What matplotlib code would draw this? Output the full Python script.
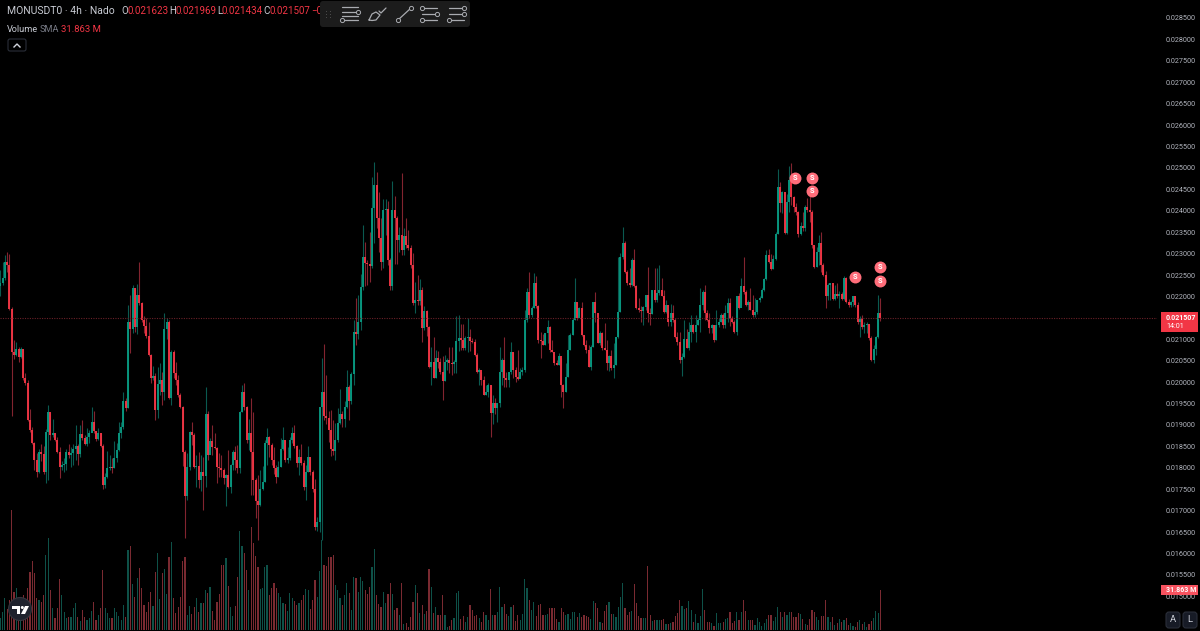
import matplotlib
matplotlib.use("Agg")
import matplotlib.pyplot as plt
from matplotlib.patches import Circle, FancyBboxPatch, Polygon, Rectangle

plt.rcParams['font.family'] = ['Roboto', 'DejaVu Sans']

# prijzen staan in eenheden van 0.00001
opens_start = 2225
closes = [
    2232, 2243, 2281, 2274, 2170, 2070, 2063, 2077, 2059, 2077,
    2010, 1998, 1912, 1888, 1858, 1818, 1790, 1838, 1832, 1790,
    1884, 1930, 1877, 1881, 1865, 1837, 1802, 1807, 1810, 1837,
    1830, 1835, 1844, 1851, 1832, 1879, 1870, 1856, 1872, 1881,
    1907, 1886, 1867, 1881, 1851, 1760, 1779, 1800, 1802, 1800,
    1823, 1842, 1881, 1895, 1956, 1940, 2141, 2125, 2220, 2129,
    2204, 2185, 2146, 2131, 2108, 2063, 2010, 2015, 1935, 1996,
    2005, 1977, 2124, 2140, 1963, 2070, 2021, 2005, 1970, 1942,
    1837, 1734, 1802, 1884, 1877, 1802, 1804, 1772, 1790, 1781,
    1926, 1830, 1863, 1849, 1847, 1802, 1800, 1795, 1776, 1783,
    1755, 1807, 1837, 1818, 1800, 1930, 1977, 1942, 1865, 1881,
    1837, 1772, 1723, 1714, 1751, 1767, 1858, 1872, 1853, 1818,
    1800, 1779, 1802, 1844, 1865, 1818, 1823, 1865, 1881, 1851,
    1812, 1825, 1812, 1755, 1790, 1825, 1790, 1750, 1662, 1674,
    1942, 1977, 1921, 1916, 1888, 1844, 1840, 1865, 1905, 1926,
    1915, 1942, 1989, 1956, 2019, 2117, 2112, 2141, 2222, 2293,
    2279, 2276, 2271, 2407, 2460, 2383, 2337, 2281, 2402, 2404,
    2285, 2225, 2402, 2383, 2332, 2344, 2309, 2341, 2320, 2313,
    2274, 2185, 2192, 2190, 2215, 2126, 2166, 2129, 2035, 2047,
    2010, 2056, 2047, 2024, 2003, 2047, 2052, 2045, 2043, 2047,
    2096, 2103, 2098, 2080, 2103, 2105, 2096, 2094, 2063, 2024,
    2028, 2005, 1970, 1977, 1993, 1928, 1952, 1940, 1952, 2024,
    2052, 2010, 2005, 2024, 2070, 2029, 2012, 2008, 2024, 2028,
    2145, 2210, 2157, 2173, 2232, 2178, 2098, 2096, 2087, 2115,
    2129, 2075, 2070, 2045, 2040, 2061, 1993, 1977, 2012, 2075,
    2110, 2146, 2186, 2150, 2173, 2110, 2087, 2075, 2035, 2082,
    2186, 2162, 2091, 2115, 2080, 2075, 2045, 2061, 2033, 2040,
    2105, 2164, 2292, 2325, 2257, 2232, 2227, 2285, 2225, 2173,
    2168, 2166, 2175, 2204, 2162, 2160, 2215, 2192, 2209, 2215,
    2201, 2164, 2180, 2141, 2162, 2146, 2106, 2094, 2052, 2059,
    2100, 2080, 2117, 2133, 2117, 2133, 2146, 2180, 2211, 2162,
    2146, 2126, 2133, 2098, 2133, 2140, 2157, 2133, 2162, 2185,
    2150, 2141, 2117, 2200, 2173, 2225, 2211, 2180, 2187, 2168,
    2157, 2164, 2192, 2197, 2215, 2241, 2297, 2281, 2264, 2288,
    2346, 2455, 2418, 2444, 2348, 2420, 2472, 2432, 2409, 2397,
    2346, 2365, 2360, 2409, 2402, 2397, 2320, 2269, 2304, 2325,
    2274, 2250, 2200, 2227, 2232, 2195, 2206, 2201, 2206, 2195,
    2243, 2187, 2180, 2187, 2201, 2180, 2141, 2148, 2129, 2133,
    2136, 2103, 2052, 2078, 2105, 2162.3, 2150.7,
]
highs = [
    2262, 2281, 2297, 2304, 2299, 2175, 2099, 2093, 2082, 2082,
    2077, 2021, 2005, 1938, 1895, 1860, 1835, 1843, 1855, 1852,
    1890, 1947, 1930, 1914, 1881, 1872, 1849, 1815, 1822, 1844,
    1856, 1849, 1856, 1900, 1856, 1900, 1912, 1877, 1893, 1888,
    1942, 1933, 1886, 1893, 1881, 1856, 1788, 1840, 1830, 1823,
    1863, 1858, 1907, 1907, 1977, 1963, 2180, 2204, 2227, 2220,
    2229, 2281, 2187, 2155, 2150, 2141, 2065, 2038, 2021, 2036,
    2045, 2024, 2162, 2150, 2145, 2075, 2075, 2047, 2017, 1975,
    1945, 1842, 1835, 1886, 1907, 1881, 1830, 1837, 1830, 1825,
    1989, 1933, 1870, 1900, 1881, 1849, 1835, 1830, 1800, 1786,
    1842, 1810, 1842, 1851, 1853, 1932, 1993, 1998, 1944, 1914,
    1963, 1930, 1776, 1783, 1795, 1804, 1865, 1893, 1874, 1858,
    1849, 1807, 1816, 1870, 1895, 1865, 1849, 1872, 1895, 1900,
    1853, 1844, 1856, 1818, 1807, 1851, 1825, 1795, 1774, 1685,
    1942, 2057, 2090, 2017, 1933, 1935, 1912, 1905, 1940, 1984,
    1933, 1956, 2029, 1993, 2024, 2145, 2197, 2204, 2253, 2367,
    2327, 2285, 2350, 2479, 2514, 2491, 2444, 2383, 2427, 2427,
    2422, 2290, 2469, 2435, 2388, 2362, 2488, 2360, 2383, 2355,
    2320, 2302, 2234, 2250, 2241, 2222, 2178, 2169, 2131, 2082,
    2105, 2075, 2073, 2056, 2060, 2064, 2057, 2082, 2082, 2052,
    2155, 2157, 2136, 2136, 2108, 2150, 2124, 2103, 2101, 2068,
    2033, 2024, 2015, 1993, 1998, 1993, 1970, 1963, 1952, 2082,
    2057, 2105, 2024, 2024, 2094, 2070, 2036, 2075, 2033, 2036,
    2168, 2220, 2257, 2178, 2255, 2248, 2180, 2117, 2112, 2115,
    2146, 2131, 2098, 2063, 2052, 2068, 2056, 1996, 2045, 2110,
    2115, 2150, 2243, 2186, 2175, 2187, 2110, 2098, 2087, 2087,
    2186, 2211, 2136, 2119, 2117, 2138, 2098, 2064, 2075, 2092,
    2105, 2292, 2301, 2362, 2330, 2262, 2267, 2290, 2311, 2227,
    2197, 2178, 2178, 2204, 2268, 2173, 2215, 2267, 2267, 2274,
    2243, 2215, 2192, 2169, 2183, 2180, 2150, 2117, 2117, 2068,
    2146, 2124, 2140, 2157, 2136, 2157, 2150, 2220, 2215, 2227,
    2169, 2162, 2136, 2133, 2168, 2150, 2162, 2162, 2180, 2197,
    2197, 2155, 2146, 2200, 2209, 2243, 2292, 2215, 2192, 2220,
    2204, 2197, 2192, 2201, 2220, 2243, 2308, 2311, 2299, 2297,
    2351, 2498, 2468, 2446, 2418, 2440, 2505, 2512, 2435, 2418,
    2400, 2374, 2397, 2413, 2430, 2437, 2402, 2320, 2315, 2344,
    2351, 2278, 2260, 2232, 2232, 2227, 2227, 2232, 2213, 2211,
    2248, 2246, 2194, 2190, 2201, 2201, 2187, 2155, 2157, 2140,
    2140, 2136, 2108, 2087, 2108, 2204, 2196.9,
]
lows = [
    2202, 2227, 2238, 2257, 2168, 1921, 2054, 2061, 2047, 2057,
    2005, 1993, 1910, 1884, 1856, 1795, 1779, 1788, 1815, 1785,
    1765, 1772, 1865, 1872, 1863, 1835, 1776, 1795, 1790, 1795,
    1823, 1802, 1807, 1818, 1807, 1825, 1865, 1853, 1851, 1858,
    1884, 1881, 1863, 1865, 1849, 1750, 1752, 1776, 1795, 1788,
    1800, 1814, 1840, 1870, 1890, 1933, 1940, 2068, 2115, 2118,
    2113, 2180, 2141, 2115, 2103, 2061, 1998, 2005, 1912, 1916,
    1970, 1947, 1958, 2100, 1960, 1947, 2010, 1994, 1966, 1940,
    1804, 1637, 1725, 1795, 1853, 1800, 1756, 1752, 1745, 1702,
    1755, 1818, 1845, 1830, 1844, 1764, 1779, 1779, 1762, 1711,
    1753, 1742, 1795, 1795, 1788, 1788, 1930, 1935, 1858, 1842,
    1737, 1737, 1682, 1632, 1711, 1748, 1767, 1807, 1825, 1807,
    1786, 1764, 1779, 1802, 1842, 1814, 1811, 1818, 1858, 1846,
    1802, 1783, 1807, 1748, 1725, 1790, 1783, 1744, 1655, 1653,
    1651, 1632, 1912, 1902, 1860, 1828, 1830, 1818, 1860, 1902,
    1895, 1895, 1940, 1912, 1950, 1993, 2087, 2100, 2122, 2216,
    2225, 2227, 2234, 2267, 2325, 2360, 2304, 2262, 2267, 2344,
    2274, 2216, 2216, 2276, 2276, 2304, 2297, 2297, 2313, 2309,
    2267, 2180, 2161, 2180, 2180, 2094, 2122, 2108, 2033, 1994,
    2010, 2010, 2033, 2019, 1958, 2003, 2028, 2021, 2017, 2021,
    2021, 2073, 2075, 2075, 2075, 2070, 2073, 2091, 2061, 2021,
    1994, 1994, 1970, 1970, 1966, 1872, 1902, 1926, 1908, 1942,
    1994, 1989, 1989, 1989, 2019, 2010, 2001, 2005, 2012, 2017,
    2024, 2141, 2150, 2152, 2173, 2173, 2092, 2056, 2087, 2087,
    2092, 2070, 2070, 2040, 2040, 2040, 1966, 1940, 1977, 2012,
    2075, 2110, 2146, 2146, 2154, 2108, 2085, 2068, 2035, 2029,
    2082, 2140, 2091, 2087, 2075, 2075, 2029, 2026, 2029, 2010,
    2040, 2103, 2164, 2288, 2255, 2227, 2222, 2225, 2222, 2171,
    2164, 2140, 2133, 2169, 2140, 2133, 2160, 2187, 2187, 2204,
    2201, 2162, 2162, 2131, 2131, 2141, 2103, 2087, 2045, 2015,
    2056, 2080, 2075, 2094, 2115, 2094, 2133, 2117, 2169, 2145,
    2143, 2115, 2115, 2094, 2098, 2129, 2140, 2126, 2126, 2141,
    2131, 2138, 2115, 2110, 2171, 2180, 2206, 2178, 2168, 2168,
    2152, 2152, 2159, 2187, 2197, 2213, 2239, 2278, 2262, 2264,
    2285, 2346, 2397, 2395, 2346, 2346, 2397, 2413, 2397, 2390,
    2339, 2344, 2353, 2353, 2397, 2374, 2314, 2267, 2269, 2274,
    2258, 2248, 2173, 2192, 2192, 2192, 2192, 2197, 2173, 2192,
    2192, 2185, 2176, 2176, 2178, 2176, 2136, 2106, 2125, 2115,
    2115, 2098, 2050, 2045, 2063, 2103, 2143.4,
]
# volume in miljoenen
volumes = [
    9.3, 14.7, 25.3, 16.5, 24, 96, 30.7, 33.3, 24, 21.3, 28, 24, 33.3, 46.7, 55.2, 45.3,
    25.3, 24, 22.7, 28, 60, 73.3, 32, 17.3, 9.3, 17.3, 40.5, 28, 14.7, 9.3, 10.7, 10.1,
    17.3, 21.9, 10.7, 7.5, 16, 10.1, 8, 9.3, 15.5, 22.7, 8, 12, 17.3, 48, 17.3, 13.3,
    9.3, 9.3, 17.3, 14.7, 11.5, 8, 20, 10.7, 64, 67.2, 36.8, 26.1, 41.3, 49.3, 33.3, 20,
    14.1, 22.7, 30.1, 19.2, 46.1, 61.3, 24.8, 45.3, 48.5, 28.8, 58.7, 70.1, 25.9, 13.3, 18.7, 26.1,
    55.2, 58.1, 12, 19.2, 12.8, 18.7, 25.9, 14.7, 21.3, 21.3, 32, 29.9, 34.1, 15.2, 8, 22.4,
    28.8, 52, 52, 57.3, 35.2, 18.1, 11.2, 19.2, 42.7, 79.5, 67.2, 61.3, 48, 32, 82.1, 69.3,
    59.2, 50.1, 32.5, 33.3, 50.1, 52, 28, 33.3, 37.3, 33.3, 29.9, 26.7, 21.9, 20.8, 15.2, 29.3,
    25.3, 23.5, 20, 21.9,
    24, 28, 32.5, 32, 16.8, 24, 40, 26.7, 47.2, 72, 52, 51.2, 58.1, 58.7, 59.7, 36,
    32, 25.3, 20, 28, 37.3, 29.3, 16, 42.1, 41.3, 30.1, 42.1, 39.2, 32, 28.8, 34.1, 50.1,
    64.8, 28, 20.8, 18.7, 30.7, 21.3, 28.8, 37.9, 28.8, 16, 17.3, 12, 37.3, 4.8, 5.3, 2.1,
    10.7, 22.1, 36, 29.3, 13.3, 20, 12.8, 15.2, 48.5, 34.7, 13.3, 18.7, 12, 12, 28, 12,
    2.1, 3.2, 8, 9.3, 29.3, 31.2, 8.8, 11.2, 6.7, 10.1, 20, 16, 11.2, 12, 9.3, 6.7,
    14.1, 12, 8, 32.8, 12, 12, 14.1, 34.7, 18.7, 20.5, 12.8, 11.2, 18.1, 20, 7.5, 12,
    8, 12.8, 40.5, 33.9, 24, 16, 22.1, 11.2, 20, 20.8, 12, 12, 12.8, 17.3, 17.3, 17.9,
    8.8, 6.7, 17.9, 14.1, 12, 12.8, 8.5, 14.7, 14.1, 10.1, 13.3, 10.1, 12, 11.2, 10.1, 8.8,
    23.5, 21.3, 17.3, 6.1, 5.3, 15.2, 20, 22.7, 12.8, 12.8, 10.1, 18.7, 26.7, 37.9, 17.3, 12,
    14.7, 15.5, 36.8, 21.3, 11.2, 9.3, 9.3, 9.3, 51.2, 11.7, 7.2, 7.7, 7.7, 7.7, 8, 8.8,
    4.5, 4.5, 5.3, 6.1, 11.2, 13.3, 24, 19.2, 16.8, 17.3, 23.2, 16, 6.4, 12.8, 5.9, 11.2,
    33.1, 16, 6.4, 6.7, 5.3, 3.2, 13.3, 5.9, 5.3, 6.7, 8.8, 9.3, 14.7, 5.3, 7.2, 14.1,
    8, 14.7, 24, 15.2, 8, 8, 8, 4, 9.3, 6.1, 3.2, 5.3, 8.8, 12, 12, 7.5,
    10.1, 18.7, 14.1, 10.1, 14.1, 12, 14.7, 14.7, 10.1, 10.1, 13.3, 12.8, 8.8, 4.5, 4, 8.8,
    16, 14.1, 10.1, 8, 11.2, 11.2, 24, 10.7, 6.7, 10.1, 4, 5.3, 8.8, 6.7, 8, 9.3,
    4, 5.3, 3.2, 2.1, 6.1, 8, 4.8, 6.1, 2.7, 4.5, 7.5, 9.3, 15.2, 13.3, 31.863,
]
signal_bars = [348.5, 356, 356, 375, 386, 386]
signal_prices = [2477, 2477, 2446, 2245, 2269, 2236]
price_ticks = [0.0150 + 0.0005 * k for k in range(28)]
last_price = 0.021507

W, H = 1200, 631
UP, DOWN = '#089981', '#f23645'
UP_WICK, DOWN_WICK = '#0a5a50', '#82242f'
UP_VOL, DOWN_VOL = '#0e5148', '#7a2a31'
GREY = '#c8cbd3'

opens = [opens_start] + closes[:-1]
up = [c >= o for o, c in zip(opens, closes)]
x = list(range(len(closes)))
to_price = lambda values: [v / 1e5 for v in values]

fig = plt.figure(figsize=(W / 100, H / 100), dpi=100, facecolor='black')
rect = [0, 0, 1157 / W, 1]
x_limits = (-0.13, 507.3)

# volume onderaan, achter de candles
ax_vol = fig.add_axes(rect, facecolor='black')
vol_x = [len(closes) - len(volumes) + k for k in range(len(volumes))]
vol_col = [UP_VOL if up[k] else DOWN_VOL for k in vol_x]
ax_vol.bar(vol_x, volumes, width=0.52, color=vol_col, linewidth=0)
ax_vol.set_xlim(x_limits)
ax_vol.set_ylim(-0.8, 504)
ax_vol.axis('off')

ax = fig.add_axes(rect, facecolor='none')
ax.set_xlim(x_limits)
ax.set_ylim(0.01419, 0.02892)
ax.vlines(x, to_price(lows), to_price(highs), colors=[UP_WICK if u else DOWN_WICK for u in up], linewidth=0.8)
ax.vlines(x, to_price(opens), to_price(closes), colors=[UP if u else DOWN for u in up], linewidth=1.35)
ax.axhline(last_price, color='#6a2028', linewidth=0.8, linestyle=(0, (1, 1.2)))

ax.scatter(signal_bars, to_price(signal_prices), s=74, color='#ff6d7a', linewidth=0, zorder=5)
for b, p in zip(signal_bars, signal_prices):
    ax.text(b, p / 1e5, 'S', color='white', fontsize=5.4, fontweight='bold', ha='center', va='center', zorder=6)

ax.set_xticks([])
ax.set_yticks(price_ticks)
ax.set_yticklabels([f'{t:.6f}' for t in price_ticks])
ax.yaxis.tick_right()
ax.tick_params(axis='y', length=0, pad=6.5, labelsize=5.2, labelcolor='#b2b5be')
for s in ax.spines.values():
    s.set_visible(False)

# overlay in pixels voor de koptekst en knoppen
ov = fig.add_axes([0, 0, 1, 1], facecolor='none')
ov.set_xlim(0, W)
ov.set_ylim(H, 0)
ov.axis('off')

ov.text(7, 11.5, 'MONUSDT0 · 4h · Nado', color=GREY, fontsize=7.5, va='center')
for xt, s, c in [(121, 'O', GREY), (128, '0.021623', DOWN), (169, 'H', GREY), (176, '0.021969', DOWN),
                 (217, 'L', GREY), (222, '0.021434', DOWN), (263, 'C', GREY), (270, '0.021507', DOWN),
                 (311, '−0', DOWN)]:
    ov.text(xt, 11.5, s, color=c, fontsize=7.0, va='center')
ov.text(7, 29, 'Volume', color=GREY, fontsize=6.6, va='center')
ov.text(40, 29, 'SMA', color='#787b86', fontsize=6.6, va='center')
ov.text(61, 29, '31.863 M', color=DOWN, fontsize=6.8, va='center')

# inklapknop
ov.add_patch(FancyBboxPatch((8, 39), 18, 12, boxstyle='round,pad=0,rounding_size=2', fc='black', ec='#2a2e39', lw=0.8))
ov.plot([14, 17, 20], [47, 44, 47], color='#d1d4dc', lw=1)

# tekenwerkbalk
ov.add_patch(FancyBboxPatch((320, 1), 150, 26, boxstyle='round,pad=0,rounding_size=3', fc='#1c1c1c', ec='none', zorder=10))
for dx in (326, 330):
    for dy in (11, 14, 17):
        ov.add_patch(Rectangle((dx, dy), 1.2, 1.2, fc='#4a4a4a', ec='none', zorder=11))
ink = dict(color='#a9abb0', lw=0.9, zorder=11, solid_capstyle='round')
dot = dict(marker='o', ms=3, mfc='#1c1c1c', mec='#a9abb0', mew=0.7, ls='none', zorder=12)
for yl, x0, x1 in [(7, 342, 358), (12, 342, 358), (16, 342, 358), (20, 342, 358)]:
    ov.plot([x0, x1], [yl, yl], **ink)
ov.plot([358, 342], [12, 20], **dot)
ov.plot([369, 372, 376, 380, 376, 372, 369], [20, 14, 12, 15, 20, 20.5, 20], **ink)
ov.plot([379, 381, 386], [11, 13, 8], **ink)
ov.plot([398, 411], [20, 8], **ink)
ov.plot([398, 411], [20, 8], **dot)
for x0 in (422, 449):
    for yl in (8, 14, 20):
        ov.plot([x0, x0 + 15], [yl, yl], **ink)
    ov.plot([x0 + (15 if x0 == 449 else 0), x0 + 15, x0], [8, 14, 20], **dot)

# labels op de prijsas
ov.add_patch(Rectangle((1161, 312), 37, 20, fc=DOWN, ec='none', zorder=10))
ov.text(1166, 318, '0.021507', color='white', fontsize=5.0, va='center', fontweight='bold', zorder=11)
ov.text(1166, 326, '14:01', color='white', fontsize=5.2, va='center', zorder=11)
ov.add_patch(Rectangle((1161, 585), 37, 10, fc='#f7525f', ec='none', zorder=10))
ov.text(1166, 590, '31.863 M', color='white', fontsize=5.0, va='center', fontweight='bold', zorder=11)

for xb, s in [(1166, 'A'), (1183, 'L')]:
    ov.add_patch(FancyBboxPatch((xb, 612), 14, 16, boxstyle='round,pad=0,rounding_size=3', fc='#171b26', ec='#2a2e39', lw=0.8))
    ov.text(xb + 7, 620, s, color='#d1d4dc', fontsize=6.8, ha='center', va='center')

# logo
ov.add_patch(Circle((20, 609), 11.5, fc='#1e222d', ec='#34343c', lw=0.8, zorder=10))
ov.add_patch(Polygon([(12, 606), (20, 606), (20, 614), (16.5, 614), (16.5, 609), (12, 609)], fc='white', ec='none', zorder=11))
ov.add_patch(Circle((22.3, 607.5), 1.5, fc='white', ec='none', zorder=11))
ov.add_patch(Polygon([(25, 606), (29, 606), (25, 614), (21, 614)], fc='white', ec='none', zorder=11))

fig.savefig('out.png', dpi=100, facecolor='black')
